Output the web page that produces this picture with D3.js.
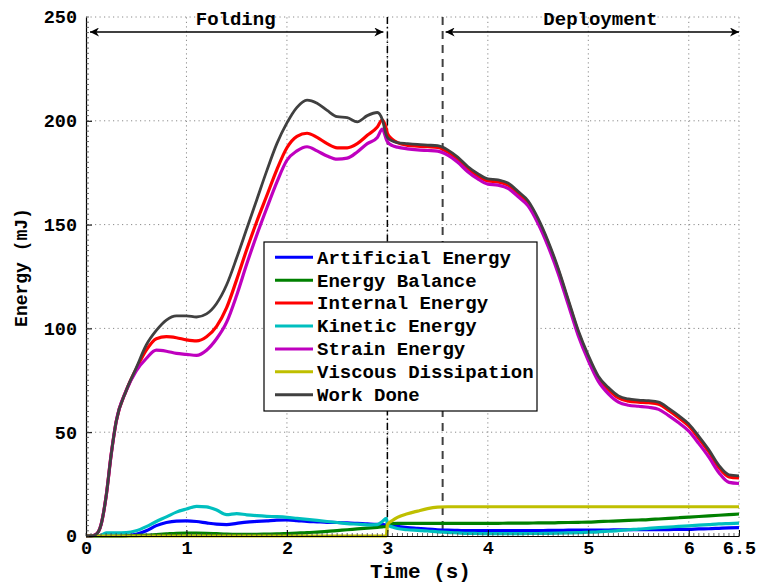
<!DOCTYPE html>
<html>
<head>
<meta charset="utf-8">
<script src="https://cdn.jsdelivr.net/npm/d3@7"></script>
<style>
  html, body { margin: 0; padding: 0; background: #fff; }
  svg { display: block; }
  text { font-family: "Liberation Mono", "Courier New", monospace; font-weight: bold; fill: #000; }
</style>
</head>
<body>
<svg id="chart" width="761" height="588"></svg>
<script>
// Sample times (s)
const time = [
  0, 0.05, 0.1, 0.15, 0.2, 0.25, 0.3,
  0.4, 0.5, 0.6, 0.7, 0.8, 0.9, 1.0, 1.1, 1.2, 1.3,
  1.4, 1.5, 1.6, 1.7, 1.8, 1.9, 2.0, 2.1, 2.2, 2.3,
  2.4, 2.5, 2.6, 2.7, 2.8, 2.9, 2.95, 2.99, 3.0, 3.05,
  3.1, 3.2, 3.3, 3.4, 3.5, 3.6, 3.7, 3.8, 3.9, 4.0,
  4.1, 4.2, 4.3, 4.4, 4.5, 4.6, 4.7, 4.8, 4.9, 5.0,
  5.1, 5.2, 5.3, 5.4, 5.5, 5.6, 5.7, 5.8, 5.9, 6.0,
  6.1, 6.2, 6.3, 6.4, 6.5
];

// Energies (mJ)
const artificialEnergy = [
  0, 0, 0, 0, 0, 0, 0,
  0.2, 0.8, 2.5, 5, 6.5, 7.2, 7.3, 7, 6.3, 5.7,
  5.5, 6.1, 6.7, 7, 7.3, 7.6, 7.7, 7.4, 7, 6.8,
  6.6, 6.5, 6.3, 6.1, 5.8, 5.6, 5.5, 5.3, 5.2, 5,
  4.6, 4.1, 3.7, 3.3, 3, 2.8, 2.7, 2.6, 2.6, 2.6,
  2.6, 2.6, 2.6, 2.6, 2.6, 2.7, 2.7, 2.8, 2.8, 2.9,
  2.9, 2.9, 3, 3, 3, 3.1, 3.1, 3.1, 3.2, 3.2,
  3.4, 3.5, 3.7, 3.9, 4
];
const energyBalance = [
  0, 0, 0, 0, 0, 0, 0,
  0.1, 0.2, 0.4, 0.7, 1, 1.3, 1.4, 1.4, 1.3, 1.1,
  0.9, 0.8, 0.8, 0.8, 0.9, 1, 1.2, 1.4, 1.6, 1.9,
  2.2, 2.6, 3, 3.4, 3.8, 4.2, 4.4, 4.6, 5.5, 6,
  6.1, 6.1, 6.1, 6.1, 6.1, 6.1, 6.1, 6.1, 6.1, 6.1,
  6.1, 6.2, 6.2, 6.2, 6.3, 6.3, 6.4, 6.5, 6.6, 6.7,
  6.9, 7.1, 7.3, 7.5, 7.7, 7.9, 8.2, 8.5, 8.8, 9.1,
  9.4, 9.7, 10, 10.3, 10.6
];
const internalEnergy = [
  0, 0, 0.8, 5.5, 19, 39, 55,
  70, 80.5, 89.5, 95, 96, 95.5, 94.5, 94, 96, 101,
  110, 123.5, 138, 151.5, 164, 176.5, 187, 192.5, 194, 192,
  189, 187, 187, 189, 193, 197, 200.5, 196, 194, 191,
  189.5, 188.2, 187.8, 187.5, 187.2, 185, 181.5, 177, 173.5, 171,
  170.5, 169, 165, 160.5, 152, 141, 128, 113, 98, 86,
  76, 70.5, 66.5, 65, 64.5, 64.2, 63.5, 60.5, 57, 53,
  47, 40.5, 33, 28.5, 28
];
const kineticEnergy = [
  0, 0, 0, 0.3, 1.5, 1.5, 1.5,
  1.6, 2.5, 4.5, 7, 9.2, 11.5, 13, 14.3, 14, 12.5,
  10.3, 10.8, 10.2, 9.8, 9.5, 9.3, 9, 8.5, 8, 7.5,
  7, 6.5, 6, 5.7, 5.4, 5.5, 7, 8.5, 5.5, 4.3,
  3.6, 3, 2.7, 2.4, 2, 1.7, 1.5, 1.3, 1.2, 1.1,
  1.1, 1.1, 1.1, 1.2, 1.2, 1.3, 1.4, 1.5, 1.6, 1.8,
  2, 2.3, 2.6, 3, 3.3, 3.7, 4, 4.3, 4.6, 4.9,
  5.2, 5.5, 5.8, 6, 6.2
];
const strainEnergy = [
  0, 0, 0.8, 5.5, 19, 39, 55,
  70, 79.5, 85.5, 89.5, 89, 88, 87.5, 87, 89.5, 95,
  103, 116, 131, 145, 158, 170.5, 181, 185.5, 187.5, 185.5,
  183, 181.5, 182, 185, 189, 192, 196, 191, 190, 188,
  187.3, 186.5, 186, 185.7, 185.4, 183.5, 180, 175.5, 172, 169.5,
  169, 167.5, 163.5, 159, 150.5, 139.5, 126.5, 111.5, 96.5, 84.5,
  74.5, 68.5, 64.5, 63, 62.5, 62, 61, 58, 54.5, 50.5,
  44.5, 38, 30.5, 25.8, 25.3
];
const viscousDissipation = [
  0, 0, 0, 0, 0, 0, 0,
  0, 0, 0, 0, 0, 0, 0, 0, 0, 0,
  0, 0, 0, 0, 0, 0, 0, 0, 0, 0,
  0, 0, 0, 0, 0, 0, 0, 0, 5.5, 7.5,
  9, 10.7, 12, 13.2, 13.9, 14.1, 14.1, 14.1, 14.1, 14.1,
  14.1, 14.1, 14.1, 14.1, 14.1, 14.1, 14.1, 14.1, 14.1, 14.1,
  14.1, 14.1, 14.1, 14.1, 14.1, 14.1, 14.1, 14.1, 14.1, 14.1,
  14.1, 14.1, 14.1, 14.1, 14.1
];
const workDone = [
  0, 0, 0.8, 5.5, 19, 39, 55,
  70, 81, 92, 99, 104, 106, 106, 105.5, 107, 112,
  121, 134, 148, 162, 176, 189, 199, 206.5, 210, 208.5,
  205, 202, 201.5, 199.5, 202.5, 204, 200.5, 193, 192, 190.3,
  189.5, 189, 188.6, 188.3, 188, 186, 182.5, 178, 174.5, 172,
  171.5, 170, 166, 161.5, 153, 142, 129, 114, 99, 87,
  77, 71.5, 67.5, 66, 65.5, 65.2, 64.5, 61.5, 58, 54,
  48, 41.5, 34, 29.5, 29
];

const seriesNames = ["Artificial Energy", "Energy Balance", "Internal Energy", "Kinetic Energy",
                     "Strain Energy", "Viscous Dissipation", "Work Done"];
const seriesValues = [artificialEnergy, energyBalance, internalEnergy, kineticEnergy,
                      strainEnergy, viscousDissipation, workDone];
const seriesColors = ["#0000ff", "#008000", "#ff0000", "#00bfbf", "#bf00bf", "#bfbf00", "#404040"];

const xTicks = [0, 1, 2, 3, 4, 5, 6, 6.5];
const yTicks = [0, 50, 100, 150, 200, 250];
const foldEnd = 3.0;        // end of folding phase (s)
const deployStart = 3.55;   // start of deployment phase (s)

const svg = d3.select("#chart");
const x = d3.scaleLinear().domain([0, 6.5]).range([86, 739]);
const y = d3.scaleLinear().domain([0, 250]).range([536, 17]);
const FONT = '"Liberation Mono", "Courier New", monospace';

// dotted grid
const grid = svg.append("g").attr("stroke", "#8a8a8a").attr("stroke-width", 1)
  .attr("stroke-dasharray", "1.2,3.3");
grid.selectAll("line.h").data(yTicks.filter(d => d > 0)).join("line")
  .attr("x1", x(0)).attr("x2", x(6.5))
  .attr("y1", d => y(d)).attr("y2", d => y(d));
grid.selectAll("line.v").data(xTicks.filter(d => d > 0)).join("line")
  .attr("y1", y(0)).attr("y2", y(250))
  .attr("x1", d => x(d)).attr("x2", d => x(d));

// phase separators
svg.append("line")
  .attr("x1", x(foldEnd)).attr("x2", x(foldEnd)).attr("y1", y(250)).attr("y2", y(0))
  .attr("stroke", "#000").attr("stroke-width", 1.5).attr("stroke-dasharray", "7,3,1.5,3");
svg.append("line")
  .attr("x1", x(deployStart)).attr("x2", x(deployStart)).attr("y1", y(250)).attr("y2", y(0))
  .attr("stroke", "#404040").attr("stroke-width", 2).attr("stroke-dasharray", "8,6");

// energy curves
const line = d3.line().curve(d3.curveMonotoneX)
  .x((d, i) => x(time[i])).y(d => y(d));
svg.append("g").selectAll("path").data(seriesValues).join("path")
  .attr("d", d => line(d))
  .attr("fill", "none")
  .attr("stroke", (d, i) => seriesColors[i])
  .attr("stroke-width", (d, i) => i === 6 ? 2.8 : 3.2)
  .attr("stroke-linejoin", "round");

// axes
const axisFont = g => g.selectAll("text").attr("font-family", FONT).attr("font-weight", "bold")
  .attr("font-size", "18.5px").attr("fill", "#000");
const xAxis = svg.append("g").attr("transform", `translate(0,${y(0)})`)
  .call(d3.axisBottom(x).tickValues(xTicks).tickFormat(d => String(d))
    .tickSizeInner(-6).tickSizeOuter(0).tickPadding(5))
  .call(axisFont);
const yAxis = svg.append("g").attr("transform", `translate(${x(0)},0)`)
  .call(d3.axisLeft(y).tickValues(yTicks).tickFormat(d => String(d))
    .tickSizeInner(-6).tickSizeOuter(0).tickPadding(9))
  .call(axisFont);
[xAxis, yAxis].forEach(g => {
  g.select(".domain").attr("stroke", "#000").attr("stroke-width", 1.2);
  g.selectAll(".tick line").attr("stroke", "#000");
});
// the top edge of the axes is only a grid line, so drop the 250 tick mark
yAxis.selectAll(".tick").filter(d => d === 250).select("line").remove();

// minor ticks
const xMinor = d3.range(0, 6.5001, 0.05);
const yMinor = d3.range(0, 250.001, 2.5);
svg.append("g").attr("stroke", "#444").attr("stroke-width", 0.8)
  .selectAll("line").data(xMinor).join("line")
  .attr("x1", d => x(d)).attr("x2", d => x(d))
  .attr("y1", y(0)).attr("y2", y(0) - 3);
svg.append("g").attr("stroke", "#444").attr("stroke-width", 0.8)
  .selectAll("line").data(yMinor).join("line")
  .attr("y1", d => y(d)).attr("y2", d => y(d))
  .attr("x1", x(0)).attr("x2", x(0) + 3);

// axis titles
svg.append("text").attr("x", (x(0) + x(6.5)) / 2 + 8).attr("y", 578)
  .attr("text-anchor", "middle").attr("font-size", "21px").text("Time (s)");
svg.append("text").attr("transform", `translate(27,${(y(0) + y(250)) / 2 - 9}) rotate(-90)`)
  .attr("text-anchor", "middle").attr("font-size", "18px").text("Energy (mJ)");

// phase annotations with double-headed arrows
const defs = svg.append("defs");
["arrowEnd", "arrowStart"].forEach((id, k) => {
  defs.append("marker").attr("id", id)
    .attr("viewBox", "0 0 10 10").attr("refX", 10).attr("refY", 5)
    .attr("markerWidth", 10).attr("markerHeight", 9).attr("markerUnits", "userSpaceOnUse")
    .attr("orient", k === 0 ? "auto" : "auto-start-reverse")
    .append("path").attr("d", "M0,0 L10,5 L0,10 L3,5 Z").attr("fill", "#000");
});
const arrowY = 32;
const phases = [
  { label: "Folding", from: 0, to: foldEnd, text: 1.49, pad: [4, 4] },
  { label: "Deployment", from: deployStart, to: 6.5, text: 5.12, pad: [3, 0] }
];
phases.forEach(p => {
  svg.append("line")
    .attr("x1", x(p.from) + p.pad[0]).attr("x2", x(p.to) - p.pad[1])
    .attr("y1", arrowY).attr("y2", arrowY)
    .attr("stroke", "#000").attr("stroke-width", 1.5)
    .attr("marker-start", "url(#arrowStart)").attr("marker-end", "url(#arrowEnd)");
  svg.append("text").attr("x", x(p.text)).attr("y", 25)
    .attr("text-anchor", "middle").attr("font-size", "19px").text(p.label);
});

// legend
const legend = svg.append("g");
legend.append("rect").attr("x", 264).attr("y", 242).attr("width", 273).attr("height", 169)
  .attr("fill", "#fff").attr("stroke", "#000").attr("stroke-width", 1.2);
seriesNames.forEach((name, i) => {
  const ry = 257.3 + i * 22.9;
  legend.append("line").attr("x1", 275).attr("x2", 313).attr("y1", ry).attr("y2", ry)
    .attr("stroke", seriesColors[i]).attr("stroke-width", 3);
  legend.append("text").attr("x", 317).attr("y", ry + 6.3)
    .attr("font-size", "19px").text(name);
});
</script>
</body>
</html>
